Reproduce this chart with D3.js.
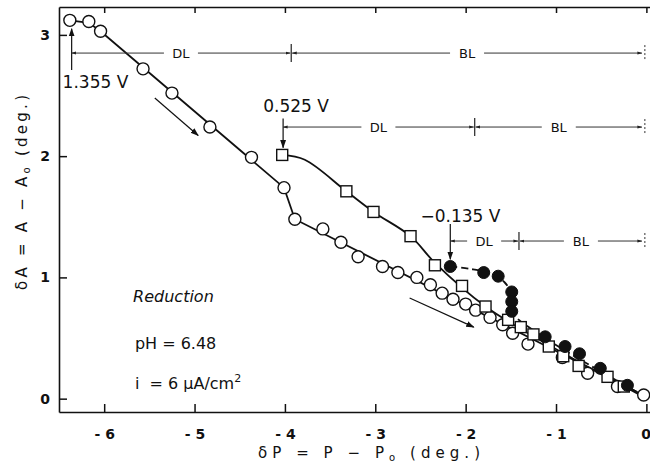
<!DOCTYPE html>
<html>
<head>
<meta charset="utf-8">
<script src="https://cdn.jsdelivr.net/npm/d3@7"></script>
<style>
  body { margin: 0; background: #fff; }
  svg text { font-family: "DejaVu Sans", sans-serif; fill: #111; }
</style>
</head>
<body>
<div id="chart"></div>
<script>
// tick values
const xTicks = [-6, -5, -4, -3, -2, -1, 0];
const yTicks = [0, 1, 2, 3];

// 1.355 V run (open circles)
const openCircles = [
  [-6.38, 3.12], [-6.17, 3.11], [-6.04, 3.03], [-5.57, 2.72], [-5.25, 2.52],
  [-4.83, 2.24], [-4.37, 1.99], [-4.01, 1.74], [-3.89, 1.48], [-3.58, 1.40],
  [-3.38, 1.29], [-3.19, 1.17], [-2.92, 1.09], [-2.75, 1.04], [-2.54, 1.00],
  [-2.39, 0.94], [-2.26, 0.87], [-2.14, 0.82], [-2.00, 0.78], [-1.89, 0.73],
  [-1.73, 0.67], [-1.59, 0.61], [-1.48, 0.54], [-1.31, 0.45], [-0.93, 0.34],
  [-0.65, 0.21], [-0.32, 0.10], [-0.03, 0.03]
];
const openCurve = [[-6.38, 3.12], [-6.17, 3.10], [-6.04, 3.03], [-4.01, 1.74], [-3.89, 1.48], [-0.01, 0.02]];

// 0.525 V run (open squares)
const squares = [
  [-4.03, 2.01], [-3.32, 1.71], [-3.02, 1.54], [-2.61, 1.34], [-2.34, 1.10],
  [-2.04, 0.93], [-1.78, 0.76], [-1.53, 0.65], [-1.39, 0.59], [-1.25, 0.53],
  [-1.08, 0.43], [-0.92, 0.35], [-0.75, 0.27], [-0.43, 0.18], [-0.25, 0.10]
];
const squareCurve = [[-4.03, 2.01], [-3.78, 1.97], [-3.32, 1.71], [-3.02, 1.54], [-2.61, 1.34],
  [-2.34, 1.12], [-1.78, 0.76], [-1.1, 0.45], [-0.02, 0.01]];

// -0.135 V run (filled circles)
const filled = [
  [-2.17, 1.09], [-1.80, 1.04], [-1.64, 1.01], [-1.49, 0.88], [-1.49, 0.80],
  [-1.49, 0.72], [-1.12, 0.51], [-0.90, 0.43], [-0.74, 0.37], [-0.51, 0.25], [-0.21, 0.11]
];
const filledCurve = [[-2.17, 1.09], [-1.95, 1.07], [-1.72, 1.03], [-1.57, 0.96], [-1.49, 0.86],
  [-1.49, 0.72], [-1.12, 0.50], [-0.02, 0.02]];

// potential labels: text, text x/y, arrow x, arrow from/to y
const potentials = [
  { text: '1.355 V', x: -6.46, y: 2.56, ax: -6.36, ay0: 2.71, ay1: 3.05 },
  { text: '0.525 V', x: -4.24, y: 2.36, ax: -4.02, ay0: 2.31, ay1: 2.07 },
  { text: '\u22120.135 V', x: -2.50, y: 1.46, ax: -2.17, ay0: 1.44, ay1: 1.15 }
];
// DL / BL spans: row y, start, separator, end
const spans = [
  { y: 2.85, x0: -6.36, x1: -3.93, x2: -0.05 },
  { y: 2.24, x0: -4.02, x1: -1.90, x2: -0.05 },
  { y: 1.30, x0: -2.17, x1: -1.41, x2: -0.05 }
];
const sweepArrows = [
  [[-5.44, 2.48], [-4.96, 2.17]],
  [[-2.62, 0.83], [-1.91, 0.59]]
];

const width = 650, height = 466;
const svg = d3.select('#chart').append('svg')
  .attr('width', width).attr('height', height);

const x = d3.scaleLinear().domain([-6.5, 0.04]).range([59, 650]);
const y = d3.scaleLinear().domain([-0.11, 3.23]).range([412, 7]);

const defs = svg.append('defs');
defs.append('marker').attr('id', 'ah')
  .attr('viewBox', '0 0 10 10').attr('refX', 9).attr('refY', 5)
  .attr('markerWidth', 7).attr('markerHeight', 7).attr('orient', 'auto-start-reverse')
  .append('path').attr('d', 'M0,1.5L10,5L0,8.5Z').attr('fill', '#111');
defs.append('marker').attr('id', 'ahs')
  .attr('viewBox', '0 0 10 10').attr('refX', 9).attr('refY', 5)
  .attr('markerWidth', 5).attr('markerHeight', 5).attr('orient', 'auto-start-reverse')
  .append('path').attr('d', 'M0,2L10,5L0,8Z').attr('fill', '#222');

// Axes
const fmtX = d => d === 0 ? '0' : '- ' + Math.abs(d);
const xAxis = svg.append('g').attr('transform', `translate(0,${y.range()[0]})`)
  .call(d3.axisBottom(x).tickValues(xTicks).tickFormat(fmtX).tickSize(-8).tickSizeOuter(0).tickPadding(17));
const topAxis = svg.append('g').attr('transform', `translate(0,${y.range()[1]})`)
  .call(d3.axisTop(x).tickValues(xTicks).tickFormat('').tickSize(-6).tickSizeOuter(0));
const yAxis = svg.append('g').attr('transform', `translate(${x.range()[0]},0)`)
  .call(d3.axisLeft(y).tickValues(yTicks).tickFormat(d3.format('d')).tickSize(-8).tickSizeOuter(0).tickPadding(9));
[xAxis, topAxis, yAxis].forEach(g => {
  g.select('.domain').attr('stroke', '#111').attr('stroke-width', 1.6);
  g.selectAll('.tick line').attr('stroke', '#111').attr('stroke-width', 1.5);
  g.selectAll('.tick text').attr('font-size', 14).attr('font-weight', 'bold')
    .style('font-family', '"DejaVu Sans", sans-serif').attr('fill', '#111');
});
// keep the last label inside the window
xAxis.selectAll('.tick text').filter(d => d === 0).attr('text-anchor', 'end').attr('dx', 4);

// Axis titles
svg.append('text')
  .attr('x', 258).attr('y', 458)
  .attr('textLength', 222).attr('lengthAdjust', 'spacing')
  .attr('font-size', 15)
  .html('δP = P − P<tspan font-size="10" dy="3">o</tspan><tspan dy="-3"> (deg.)</tspan>');
svg.append('text')
  .attr('transform', 'translate(27,290) rotate(-90)')
  .attr('textLength', 195).attr('lengthAdjust', 'spacing')
  .attr('font-size', 15)
  .html('δA = A − A<tspan font-size="10" dy="3">o</tspan><tspan dy="-3"> (deg.)</tspan>');

// Curves
const line = d3.line().x(d => x(d[0])).y(d => y(d[1]));
svg.append('path').datum(openCurve)
  .attr('d', line.curve(d3.curveLinear)).attr('fill', 'none')
  .attr('stroke', '#111').attr('stroke-width', 1.8);
svg.append('path').datum(squareCurve)
  .attr('d', line.curve(d3.curveCatmullRom.alpha(0.5))).attr('fill', 'none')
  .attr('stroke', '#111').attr('stroke-width', 1.8);
svg.append('path').datum(filledCurve)
  .attr('d', line.curve(d3.curveCatmullRom.alpha(0.5))).attr('fill', 'none')
  .attr('stroke', '#111').attr('stroke-width', 1.8).attr('stroke-dasharray', '7,4');

// Markers
svg.append('g').selectAll('circle').data(openCircles).join('circle')
  .attr('cx', d => x(d[0])).attr('cy', d => y(d[1])).attr('r', 6)
  .attr('fill', '#fff').attr('stroke', '#111').attr('stroke-width', 1.4);
svg.append('g').selectAll('rect').data(squares).join('rect')
  .attr('x', d => x(d[0]) - 5.5).attr('y', d => y(d[1]) - 5.5)
  .attr('width', 11).attr('height', 11)
  .attr('fill', '#fff').attr('stroke', '#111').attr('stroke-width', 1.4);
svg.append('g').selectAll('circle').data(filled).join('circle')
  .attr('cx', d => x(d[0])).attr('cy', d => y(d[1])).attr('r', 6)
  .attr('fill', '#111').attr('stroke', '#111').attr('stroke-width', 1);

// Potential labels with arrows
potentials.forEach(p => {
  svg.append('text').attr('x', x(p.x)).attr('y', y(p.y))
    .attr('font-size', 17).text(p.text);
  svg.append('line')
    .attr('x1', x(p.ax)).attr('x2', x(p.ax))
    .attr('y1', y(p.ay0)).attr('y2', y(p.ay1))
    .attr('stroke', '#111').attr('stroke-width', 1.2)
    .attr('marker-end', 'url(#ah)');
});

// DL / BL spans
function span(g, xa, xb, yy, label) {
  const mid = (xa + xb) / 2, gap = 17;
  g.append('line').attr('x1', xa).attr('x2', mid - gap).attr('y1', yy).attr('y2', yy)
    .attr('marker-start', 'url(#ahs)');
  g.append('line').attr('x1', mid + gap).attr('x2', xb).attr('y1', yy).attr('y2', yy)
    .attr('marker-end', 'url(#ahs)');
  g.append('text').attr('x', mid).attr('y', yy + 5).attr('text-anchor', 'middle')
    .attr('font-size', 13).attr('stroke', 'none').text(label);
}
spans.forEach(s => {
  const g = svg.append('g').attr('stroke', '#333').attr('stroke-width', 1);
  const yy = y(s.y);
  span(g, x(s.x0), x(s.x1) - 1, yy, 'DL');
  span(g, x(s.x1) + 1, x(s.x2), yy, 'BL');
  g.append('line').attr('x1', x(s.x1)).attr('x2', x(s.x1))
    .attr('y1', yy - 9).attr('y2', yy + 9).attr('stroke-width', 1.3);
  g.append('line').attr('x1', x(s.x2) + 3).attr('x2', x(s.x2) + 3)
    .attr('y1', yy - 8).attr('y2', yy + 8).attr('stroke-dasharray', '2,2');
});

// Sweep direction arrows
sweepArrows.forEach(a => {
  svg.append('line')
    .attr('x1', x(a[0][0])).attr('y1', y(a[0][1]))
    .attr('x2', x(a[1][0])).attr('y2', y(a[1][1]))
    .attr('stroke', '#111').attr('stroke-width', 1.2)
    .attr('marker-end', 'url(#ah)');
});

// Conditions text
svg.append('text').attr('x', x(-5.68)).attr('y', y(0.80))
  .attr('font-size', 16).attr('font-style', 'italic').text('Reduction');
svg.append('text').attr('x', x(-5.66)).attr('y', y(0.41))
  .attr('font-size', 16).attr('xml:space', 'preserve').text('pH = 6.48');
svg.append('text').attr('x', x(-5.66)).attr('y', y(0.08))
  .attr('font-size', 16).attr('xml:space', 'preserve')
  .html('i  = 6 μA/cm<tspan font-size="11" dy="-7">2</tspan>');
</script>
</body>
</html>
